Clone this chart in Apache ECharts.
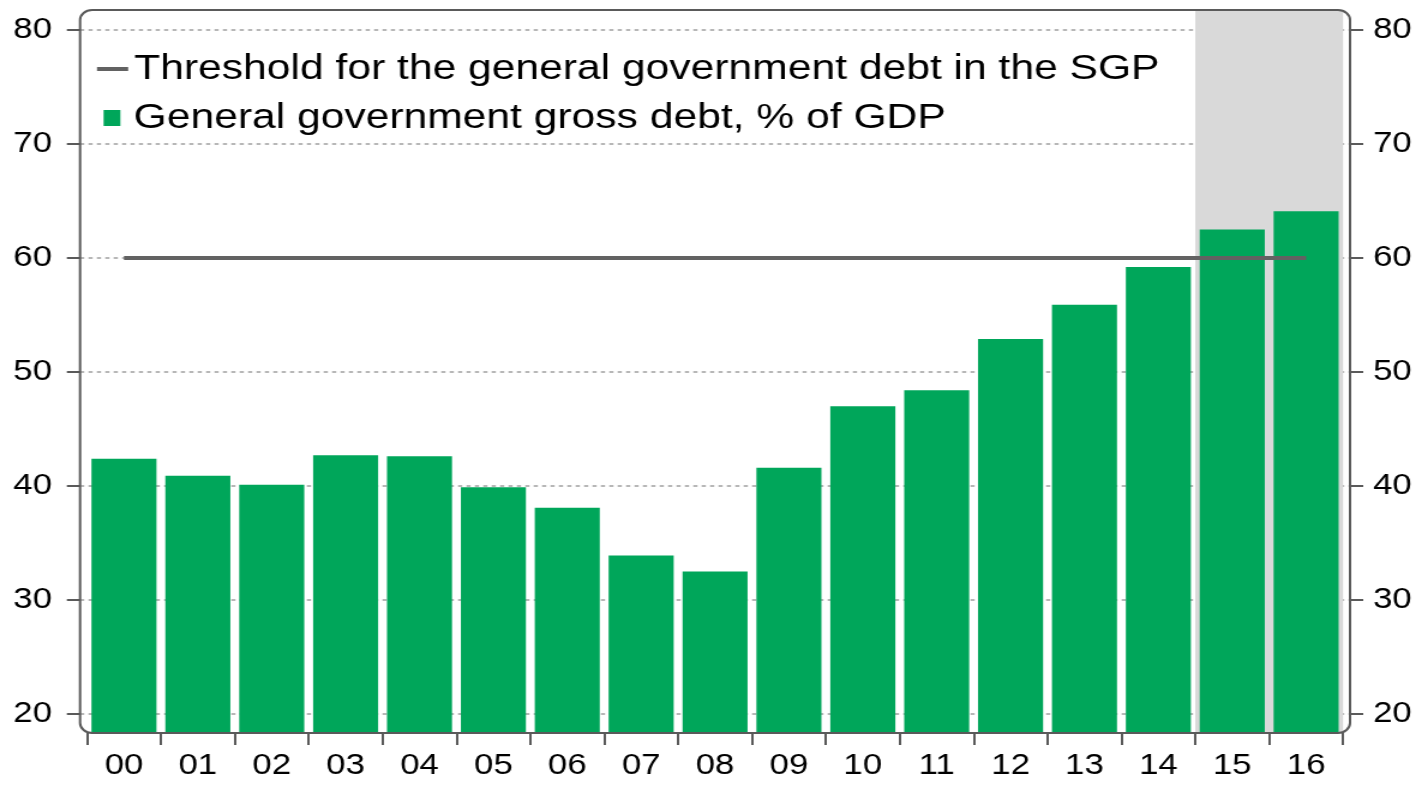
<!DOCTYPE html>
<html>
<head>
<meta charset="utf-8">
<script src="https://cdn.jsdelivr.net/npm/echarts@6/dist/echarts.min.js"></script>
<style>
  html, body { margin: 0; padding: 0; background: #fff; overflow: hidden; }
  #main { width: 1185px; height: 787px; transform: scaleX(1.2); transform-origin: 0 0; }
</style>
</head>
<body>
<div id="main"></div>
<script>
const categories = ['00','01','02','03','04','05','06','07','08','09','10','11','12','13','14','15','16'];
const debtValues = [42.4, 40.9, 40.1, 42.7, 42.6, 39.9, 38.1, 33.9, 32.5, 41.6, 47.0, 48.4, 52.9, 55.9, 59.2, 62.5, 64.1];
const thresholdValues = [60, 60, 60, 60, 60, 60, 60, 60, 60, 60, 60, 60, 60, 60, 60, 60, 60];
const shadedCategories = ['15', '16'];
const yTickMin = 20, yTickMax = 80, yTickStep = 10;
const thresholdName = 'Threshold for the general government debt in the SGP';
const debtName = 'General government gross debt, % of GDP';

const FONT = "'Liberation Sans', Arial, sans-serif";
const chart = echarts.init(document.getElementById('main'), null, { renderer: 'canvas' });

const axisLabelStyle = { color: '#000', fontSize: 29, fontFamily: FONT };
// band edges of the shaded categories on a numeric copy of the category axis
const shadeStart = categories.indexOf(shadedCategories[0]) - 0.5;
const shadeEnd = categories.indexOf(shadedCategories[1]) + 0.5;

chart.setOption({
  animation: false,
  backgroundColor: '#fff',
  grid: [
    { left: 66.7, right: 60, top: 30, bottom: 73 },
    { left: 72.5, right: 65.8, top: 10, bottom: 54 },
    { left: 72.5, right: 65.8, top: 10, bottom: 54 }
  ],
  legend: [
    {
      left: 80.8, top: 49, padding: 0, orient: 'vertical',
      itemWidth: 26, itemHeight: 4,
      data: [{ name: thresholdName, icon: 'rect' }],
      textStyle: { color: '#000', fontSize: 35.5, fontFamily: FONT, lineHeight: 40 }
    },
    {
      left: 86.3, top: 98, padding: 0, orient: 'vertical',
      itemWidth: 14, itemHeight: 16,
      data: [{ name: debtName, icon: 'rect' }],
      textStyle: { color: '#000', fontSize: 35.5, fontFamily: FONT, lineHeight: 40, padding: [0, 0, 0, 6] }
    }
  ],
  xAxis: [
    { gridIndex: 0, type: 'value', show: false, min: 0, max: 1 },
    {
      gridIndex: 1, type: 'category', data: categories, boundaryGap: true,
      axisLine: { show: false },
      axisTick: { show: true, length: 12, lineStyle: { color: '#5a5a5a', width: 2 } },
      axisLabel: Object.assign({ margin: 18 }, axisLabelStyle),
      splitLine: { show: false }
    },
    { gridIndex: 2, type: 'value', show: false, min: -0.5, max: categories.length - 0.5 }
  ],
  yAxis: [
    {
      gridIndex: 0, type: 'value', position: 'left', min: yTickMin, max: yTickMax, interval: yTickStep, z: 1,
      axisLine: { show: false },
      axisTick: { show: true, inside: false, length: 11, lineStyle: { color: '#5a5a5a', width: 2 } },
      axisLabel: Object.assign({ margin: 23.4 }, axisLabelStyle),
      splitLine: { show: true, lineStyle: { color: '#a0a0a0', width: 1.5, type: [3.5, 3.5] } }
    },
    {
      gridIndex: 0, type: 'value', position: 'right', min: yTickMin, max: yTickMax, interval: yTickStep, z: 1,
      axisLine: { show: false },
      axisTick: { show: true, inside: false, length: 11, lineStyle: { color: '#5a5a5a', width: 2 } },
      axisLabel: Object.assign({ margin: 19.2 }, axisLabelStyle),
      splitLine: { show: false }
    },
    {
      gridIndex: 1, type: 'value', min: 18.333, max: 81.754, show: false,
      splitLine: { show: false }
    },
    {
      gridIndex: 2, type: 'value', min: 18.333, max: 81.754, show: false,
      splitLine: { show: false }
    }
  ],
  series: [
    {
      name: 'shade', type: 'line', xAxisIndex: 2, yAxisIndex: 3, data: [], z: 0,
      silent: true, symbol: 'none',
      markArea: {
        silent: true,
        itemStyle: { color: '#d9d9d9' },
        data: [[{ xAxis: shadeStart, yAxis: 81.754 }, { xAxis: shadeEnd, yAxis: 18.333 }]]
      }
    },
    {
      name: debtName, type: 'bar', xAxisIndex: 1, yAxisIndex: 2, data: debtValues, z: 2,
      barCategoryGap: '12%',
      itemStyle: { color: '#00a65a' }
    },
    {
      name: thresholdName, type: 'line', xAxisIndex: 1, yAxisIndex: 2, data: thresholdValues, z: 3,
      symbol: 'none',
      lineStyle: { color: '#626262', width: 4 },
      itemStyle: { color: '#626262' }
    }
  ],
  graphic: [
    {
      type: 'rect', z: 10, silent: true,
      shape: { x: 66.7, y: 10, width: 1058.3, height: 723, r: 10 },
      style: { fill: 'none', stroke: '#5a5a5a', lineWidth: 2 }
    }
  ]
});
</script>
</body>
</html>
